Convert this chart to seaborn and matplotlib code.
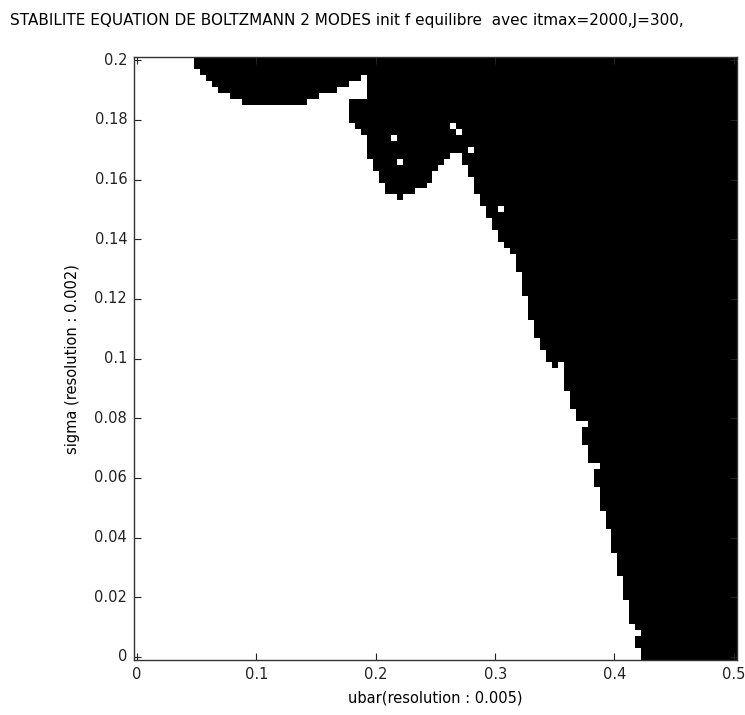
import numpy as np
import pandas as pd
import seaborn as sns
import matplotlib
matplotlib.use("Agg")
import matplotlib.pyplot as plt
from matplotlib.colors import ListedColormap

# grid: ubar 0..0.5 step 0.005 (101 cols), sigma 0..0.2 step 0.002 (101 rows)
du = 0.005
ds = 0.002
n_u = 101
n_s = 101

# lowest unstable (black) sigma index for each ubar column (101 = fully stable)
threshold = ([101] * 10 +
             [99, 98, 97, 96, 95, 95, 94, 94] + [93] * 11 +
             [94, 94, 95, 95, 95, 96, 96] +
             [90, 89, 88, 84, 82, 80, 78, 78, 77, 78, 78, 79, 79, 80, 82, 83, 84,
              85, 85, 83, 81, 78, 76, 74, 72, 70, 69, 68, 65, 61, 57, 54, 52, 50,
              49, 49, 45, 42, 40, 36, 33, 29, 25, 22, 18, 14, 10, 6, 2] +
             [0] * 16)

# stable cells (ubar index, sigma index) lying inside the unstable zone
stable_cells = [(36, 94), (36, 95), (36, 96), (37, 94), (37, 95), (37, 96),
                (38, 94), (38, 95), (38, 96), (38, 97),
                (43, 87), (44, 83), (53, 89), (54, 88), (56, 85), (61, 75),
                (71, 49), (75, 39), (77, 32), (84, 4)]

ubar_ticks = [0, 0.1, 0.2, 0.3, 0.4, 0.5]
sigma_ticks = [0, 0.02, 0.04, 0.06, 0.08, 0.1, 0.12, 0.14, 0.16, 0.18, 0.2]

Z = np.zeros((n_s, n_u))
for j, t in enumerate(threshold):
    Z[t:, j] = 1
for j, i in stable_cells:
    Z[i, j] = 0
df = pd.DataFrame(Z, index=np.round(np.arange(n_s) * ds, 3),
                  columns=np.round(np.arange(n_u) * du, 3))

fig = plt.figure(figsize=(7.45, 7.15), dpi=100)
ax = fig.add_axes([0.180, 0.077, 0.809, 0.843])
sns.heatmap(df, cmap=ListedColormap(["white", "black"]), cbar=False, ax=ax,
            vmin=0, vmax=1)
ax.invert_yaxis()

ax.set_xticks([v / du + 0.5 for v in ubar_ticks])
ax.set_xticklabels([f"{v:g}" for v in ubar_ticks], rotation=0, fontsize=10.5)
ax.set_yticks([v / ds + 0.5 for v in sigma_ticks])
ax.set_yticklabels([f"{v:g}" for v in sigma_ticks], rotation=0, fontsize=10.5)
ax.tick_params(direction="in", top=True, right=True, length=5, width=0.8,
               pad=5, colors="#222222")
for s in ax.spines.values():
    s.set_visible(True)
    s.set_color("#333333")
    s.set_linewidth(1)

ax.set_xlabel("ubar(resolution : 0.005)", fontsize=10.5, labelpad=6)
ax.set_ylabel("sigma (resolution : 0.002)", fontsize=10.5, labelpad=10)

fig.text(10 / 745, 1 - 20 / 715,
         "STABILITE EQUATION DE BOLTZMANN 2 MODES init f equilibre  avec itmax=2000,J=300,",
         family=["Liberation Sans Narrow", "DejaVu Sans"], fontsize=11,
         ha="left", va="center")

fig.savefig("out.png", dpi=100)
